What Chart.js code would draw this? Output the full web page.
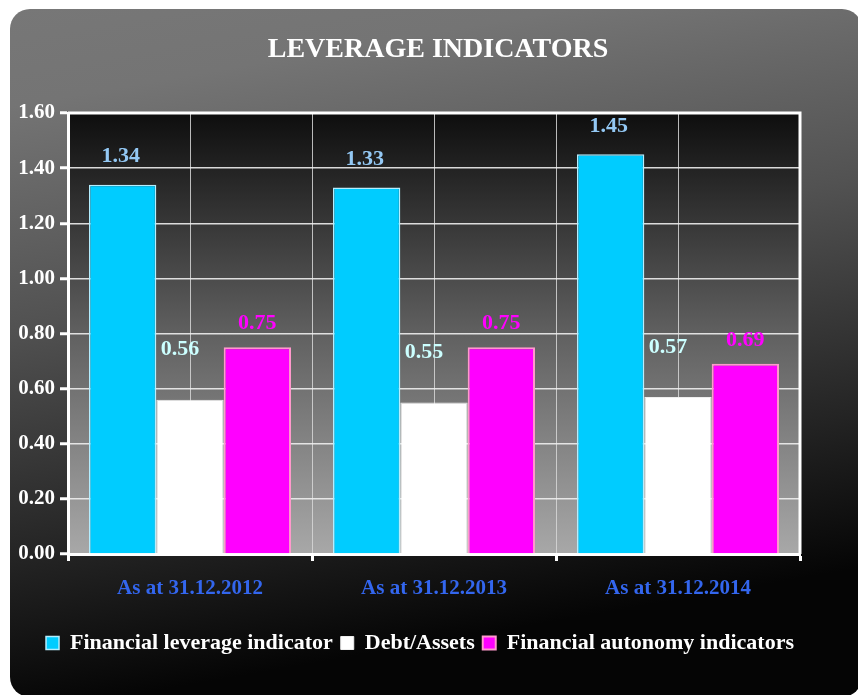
<!DOCTYPE html>
<html>
<head>
<meta charset="utf-8">
<title>Leverage indicators</title>
<script src="https://cdn.jsdelivr.net/npm/chart.js@4.4.1/dist/chart.umd.min.js"></script>
<style>
  html, body { margin: 0; padding: 0; background: #ffffff; }
  canvas { display: block; }
</style>
</head>
<body>
<canvas id="chart" width="858" height="695"></canvas>
<script>
// Reporting dates and indicator values
const categories = ['As at 31.12.2012', 'As at 31.12.2013', 'As at 31.12.2014'];
const leverageIndicator = [1.34, 1.33, 1.45];
const debtToAssets = [0.56, 0.55, 0.57];
const autonomyIndicator = [0.75, 0.75, 0.69];
const yTickLabels = ['0.00', '0.20', '0.40', '0.60', '0.80', '1.00', '1.20', '1.40', '1.60'];

const SERIF = '"Liberation Serif", "Times New Roman", Times, serif';

// Value label styling for each series (colour and offset from the bar top)
const valueLabelStyle = [
  { color: '#93c8f4', dx: -2, dy: 28 },
  { color: '#ccffff', dx: -10, dy: 50 },
  { color: '#ff00ff', dx: 0,  dy: 24 }
];

// Rounded grey panel and the shaded plot area behind the grid
const backgroundPlugin = {
  id: 'panelBackground',
  beforeDraw(chart) {
    const { ctx, chartArea: a } = chart;
    ctx.save();
    const g = ctx.createLinearGradient(0, 9, 120, 697);
    g.addColorStop(0, '#777777');
    g.addColorStop(0.14, '#747474');
    g.addColorStop(0.45, '#525252');
    g.addColorStop(0.78, '#242424');
    g.addColorStop(1, '#050505');
    ctx.fillStyle = g;
    ctx.beginPath();
    ctx.roundRect(10, 9, 852, 688, 20);
    ctx.fill();

    const p = ctx.createLinearGradient(0, a.top, 0, a.bottom);
    p.addColorStop(0, '#0e0e0e');
    p.addColorStop(0.5, '#606060');
    p.addColorStop(1, '#a8a8a8');
    ctx.fillStyle = p;
    ctx.fillRect(a.left, a.top, a.right - a.left, a.bottom - a.top);
    ctx.restore();
  }
};

// White frame on the top and right edges of the plot area
const framePlugin = {
  id: 'plotFrame',
  beforeDatasetsDraw(chart) {
    const { ctx, chartArea: a } = chart;
    ctx.save();
    ctx.strokeStyle = '#ffffff';
    ctx.lineWidth = 3;
    ctx.beginPath();
    ctx.moveTo(a.left, a.top);
    ctx.lineTo(a.right, a.top);
    ctx.lineTo(a.right, a.bottom);
    ctx.stroke();
    ctx.restore();
  }
};

// Chart heading, plus a nudge that centres the legend under the heading
const headingPlugin = {
  id: 'heading',
  afterLayout(chart) {
    if (chart.legend) {
      chart.legend.left += 16;
      chart.legend.right += 16;
    }
  },
  afterDraw(chart) {
    const { ctx } = chart;
    ctx.save();
    ctx.font = 'bold 28px ' + SERIF;
    ctx.fillStyle = '#ffffff';
    ctx.textAlign = 'center';
    ctx.textBaseline = 'middle';
    ctx.fillText('LEVERAGE INDICATORS', 438, 50);
    ctx.restore();
  }
};

// Numeric labels above each bar
const valueLabelPlugin = {
  id: 'valueLabels',
  afterDatasetsDraw(chart) {
    const { ctx } = chart;
    ctx.save();
    ctx.font = 'bold 22px ' + SERIF;
    ctx.textAlign = 'center';
    ctx.textBaseline = 'middle';
    chart.data.datasets.forEach((ds, i) => {
      const style = valueLabelStyle[i];
      chart.getDatasetMeta(i).data.forEach((bar, j) => {
        ctx.fillStyle = style.color;
        ctx.fillText(ds.data[j].toFixed(2), bar.x + style.dx, bar.y - style.dy);
      });
    });
    ctx.restore();
  }
};

new Chart(document.getElementById('chart'), {
  type: 'bar',
  data: {
    labels: categories,
    datasets: [
      {
        label: 'Financial leverage indicator',
        data: leverageIndicator,
        backgroundColor: '#00ccff',
        borderColor: '#b4eeff',
        borderWidth: 1.5
      },
      {
        label: 'Debt/Assets',
        data: debtToAssets,
        backgroundColor: '#ffffff',
        borderColor: '#eeeeee',
        borderWidth: 1
      },
      {
        label: 'Financial autonomy indicators',
        data: autonomyIndicator,
        backgroundColor: '#ff00ff',
        borderColor: '#ff99cc',
        borderWidth: 2
      }
    ]
  },
  options: {
    responsive: false,
    animation: false,
    layout: { padding: { left: 8, right: 58, top: 113, bottom: 31 } },
    datasets: {
      bar: { categoryPercentage: 0.828, barPercentage: 1.0 }
    },
    scales: {
      x: {
        type: 'category',
        z: 1,
        grid: {
          drawOnChartArea: false,
          drawTicks: true,
          tickLength: 7,
          tickColor: '#ffffff',
          tickWidth: 3
        },
        border: { display: true, color: '#ffffff', width: 3 },
        ticks: {
          color: '#3366ee',
          padding: 15,
          font: { family: SERIF, size: 21, weight: 'bold' }
        },
        afterFit(scale) { scale.height = 70; }
      },
      xGrid: {
        type: 'linear',
        position: 'top',
        offset: false,
        min: 0,
        max: 6,
        ticks: { display: false, stepSize: 1 },
        grid: {
          offset: false,
          drawTicks: false,
          color: 'rgba(215,215,215,0.85)',
          lineWidth: 1
        },
        border: { display: false },
        afterFit(scale) { scale.height = 0; }
      },
      y: {
        min: 0,
        max: 1.6,
        ticks: {
          stepSize: 0.2,
          color: '#ffffff',
          padding: 5,
          font: { family: SERIF, size: 21, weight: 'bold' },
          callback: (v, i) => yTickLabels[i]
        },
        grid: {
          color: 'rgba(238,238,238,0.9)',
          lineWidth: 1.5,
          tickLength: 8,
          tickColor: '#ffffff',
          tickWidth: 3
        },
        border: { display: true, color: '#ffffff', width: 3 },
        afterFit(scale) { scale.width = 60; }
      }
    },
    plugins: {
      title: { display: false },
      tooltip: { enabled: false },
      legend: {
        position: 'bottom',
        labels: {
          color: '#ffffff',
          boxWidth: 13,
          boxHeight: 13,
          padding: 8,
          font: { family: SERIF, size: 22, weight: 'bold' }
        }
      }
    }
  },
  plugins: [backgroundPlugin, framePlugin, valueLabelPlugin, headingPlugin]
});
</script>
</body>
</html>
